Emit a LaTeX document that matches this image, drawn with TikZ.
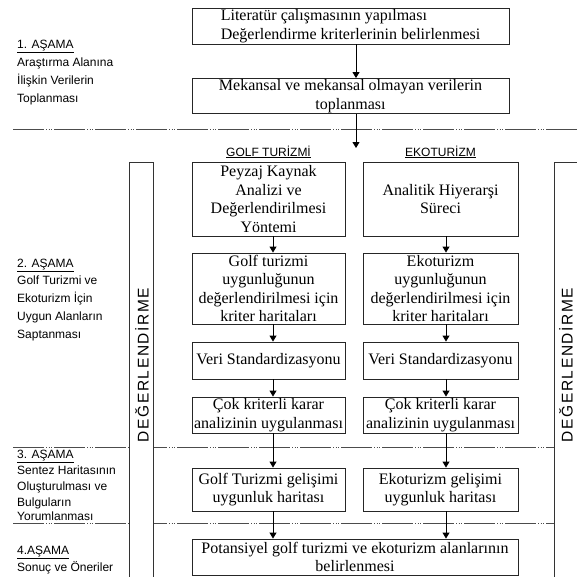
\documentclass[tikz,border=0pt]{standalone}
\usepackage{fontspec}
\setmainfont{Liberation Serif}
\newfontfamily\labfont{Liberation Sans}
\usetikzlibrary{arrows.meta}
\newcommand\degword{D\kern1.6pt E\kern1.6pt Ğ\kern1.6pt E\kern1.6pt R\kern1.6pt L\kern1.6pt E\kern1.6pt N\kern1.6pt D\kern1.6pt İ\kern1.6pt R\kern1.6pt M\kern1.6pt E}
\tikzset{
  box/.style={draw=black!85, line width=0.9pt, fill=white, align=center, inner sep=0pt,
     font=\fontsize{16}{18.5}\selectfont},
  lab/.style={anchor=base west, inner sep=0pt, font=\labfont\fontsize{12}{14}\selectfont},
  head/.style={inner sep=0pt, font=\labfont\fontsize{12}{14}\selectfont},
  sep/.style={draw=black!70, line width=0.8pt,
     dash pattern=on 31pt off 2pt on 1pt off 1.5pt on 1pt off 1.5pt on 1pt off 2pt},
  arr/.style={draw=black, line width=0.9pt, -{Triangle[length=6pt,width=7pt]}},
  bar/.style={draw=black!80, line width=0.9pt, fill=white},
  vword/.style={rotate=90, inner sep=0pt, font=\labfont\fontsize{15.5}{18}\selectfont}
}
\begin{document}
\begin{tikzpicture}[x=1pt, y=-1pt]
\useasboundingbox (0,0) rectangle (577,576);
\clip (0,0) rectangle (577,576);
\fill[white] (0,0) rectangle (577,576);
% separators
\draw[sep] (13,129) -- (577,129);
\draw[sep] (13,447) -- (554,447);
\draw[sep] (13,523) -- (554,523);
% bars
\draw[bar] (129,162) rectangle (153,590);
\draw[bar] (554,162) rectangle (590,590);
\node[vword] (degL) at (142,365) {\degword};
\node[vword] (degR) at (566,365) {\degword};
% stage 1
\node[box, minimum width=317pt, minimum height=36pt, align=left] (b1) at (350.5,26) {Literatür çalışmasının yapılması\\Değerlendirme kriterlerinin belirlenmesi};
\node[box, minimum width=317pt, minimum height=35pt] (b2) at (350.5,96) {Mekansal ve mekansal olmayan verilerin\\toplanması};
\coordinate (split) at (356,148);
\draw[arr] ([xshift=5.5pt]b1.south) -- ([xshift=5.5pt]b2.north);
\draw[arr] ([xshift=5.5pt]b2.south) -- (split);
% headers
\node[head] (hg) at (268.5,152) {\underline{GOLF TURİZMİ}};
\node[head] (he) at (440.5,152) {\underline{EKOTURİZM}};
% golf column
\node[box, minimum width=153pt, minimum height=74pt] (g1) at (268.5,199) {Peyzaj Kaynak\\Analizi ve\\Değerlendirilmesi\\Yöntemi};
\node[box, minimum width=153pt, minimum height=71pt] (g2) at (268.5,288.5) {Golf turizmi\\uygunluğunun\\değerlendirilmesi için\\kriter haritaları};
\node[box, minimum width=153pt, minimum height=37pt] (g3) at (268.5,360.5) {Veri Standardizasyonu};
\node[box, minimum width=153pt, minimum height=36pt] (g4) at (268.5,415) {Çok kriterli karar\\analizinin uygulanması};
\node[box, minimum width=153pt, minimum height=43pt] (g5) at (268.5,489.5) {Golf Turizmi gelişimi\\uygunluk haritası};
% eko column
\node[box, minimum width=155pt, minimum height=74pt] (e1) at (440.5,199) {Analitik Hiyerarşi\\Süreci};
\node[box, minimum width=155pt, minimum height=71pt] (e2) at (440.5,288.5) {Ekoturizm\\uygunluğunun\\değerlendirilmesi için\\kriter haritaları};
\node[box, minimum width=155pt, minimum height=37pt] (e3) at (440.5,360.5) {Veri Standardizasyonu};
\node[box, minimum width=155pt, minimum height=36pt] (e4) at (440.5,415) {Çok kriterli karar\\analizinin uygulanması};
\node[box, minimum width=155pt, minimum height=43pt] (e5) at (440.5,489.5) {Ekoturizm gelişimi\\uygunluk haritası};
% final
\node[box, minimum width=326pt, minimum height=36pt] (f) at (355,557) {Potansiyel golf turizmi ve ekoturizm alanlarının\\belirlenmesi};
% arrows
\foreach \a/\b in {g1/g2,g2/g3,g3/g4,g4/g5}
  \draw[arr] ([xshift=4.5pt]\a.south) -- ([xshift=4.5pt]\b.north);
\foreach \a/\b in {e1/e2,e2/e3,e3/e4,e4/e5}
  \draw[arr] ([xshift=5.5pt]\a.south) -- ([xshift=5.5pt]\b.north);
\draw[arr] ([xshift=4.5pt]g5.south) -- ([xshift=4.5pt]g5.south |- f.north);
\draw[arr] ([xshift=5.5pt]e5.south) -- ([xshift=5.5pt]e5.south |- f.north);
% stage labels (baselines)
\node[lab] (s1a) at (17,48) {\underline{1. AŞAMA}};
\node[lab] (s1b) at (17,66) {Araştırma Alanına};
\node[lab] (s1c) at (17,84) {İlişkin Verilerin};
\node[lab] (s1d) at (17,102) {Toplanması};
\node[lab] (s2a) at (17,267) {\underline{2. AŞAMA}};
\node[lab] (s2b) at (17,284) {Golf Turizmi ve};
\node[lab] (s2c) at (17,302) {Ekoturizm İçin};
\node[lab] (s2d) at (17,320) {Uygun Alanların};
\node[lab] (s2e) at (17,338) {Saptanması};
\node[lab] (s3a) at (17,458) {\underline{3. AŞAMA}};
\node[lab] (s3b) at (17,474.5) {Sentez Haritasının};
\node[lab] (s3c) at (17,490.5) {Oluşturulması ve};
\node[lab] (s3d) at (17,506) {Bulguların};
\node[lab] (s3e) at (17,520) {Yorumlanması};
\node[lab] (s4a) at (17,554) {\underline{4.AŞAMA}};
\node[lab] (s4b) at (17,571) {Sonuç ve Öneriler};
\end{tikzpicture}
\end{document}
